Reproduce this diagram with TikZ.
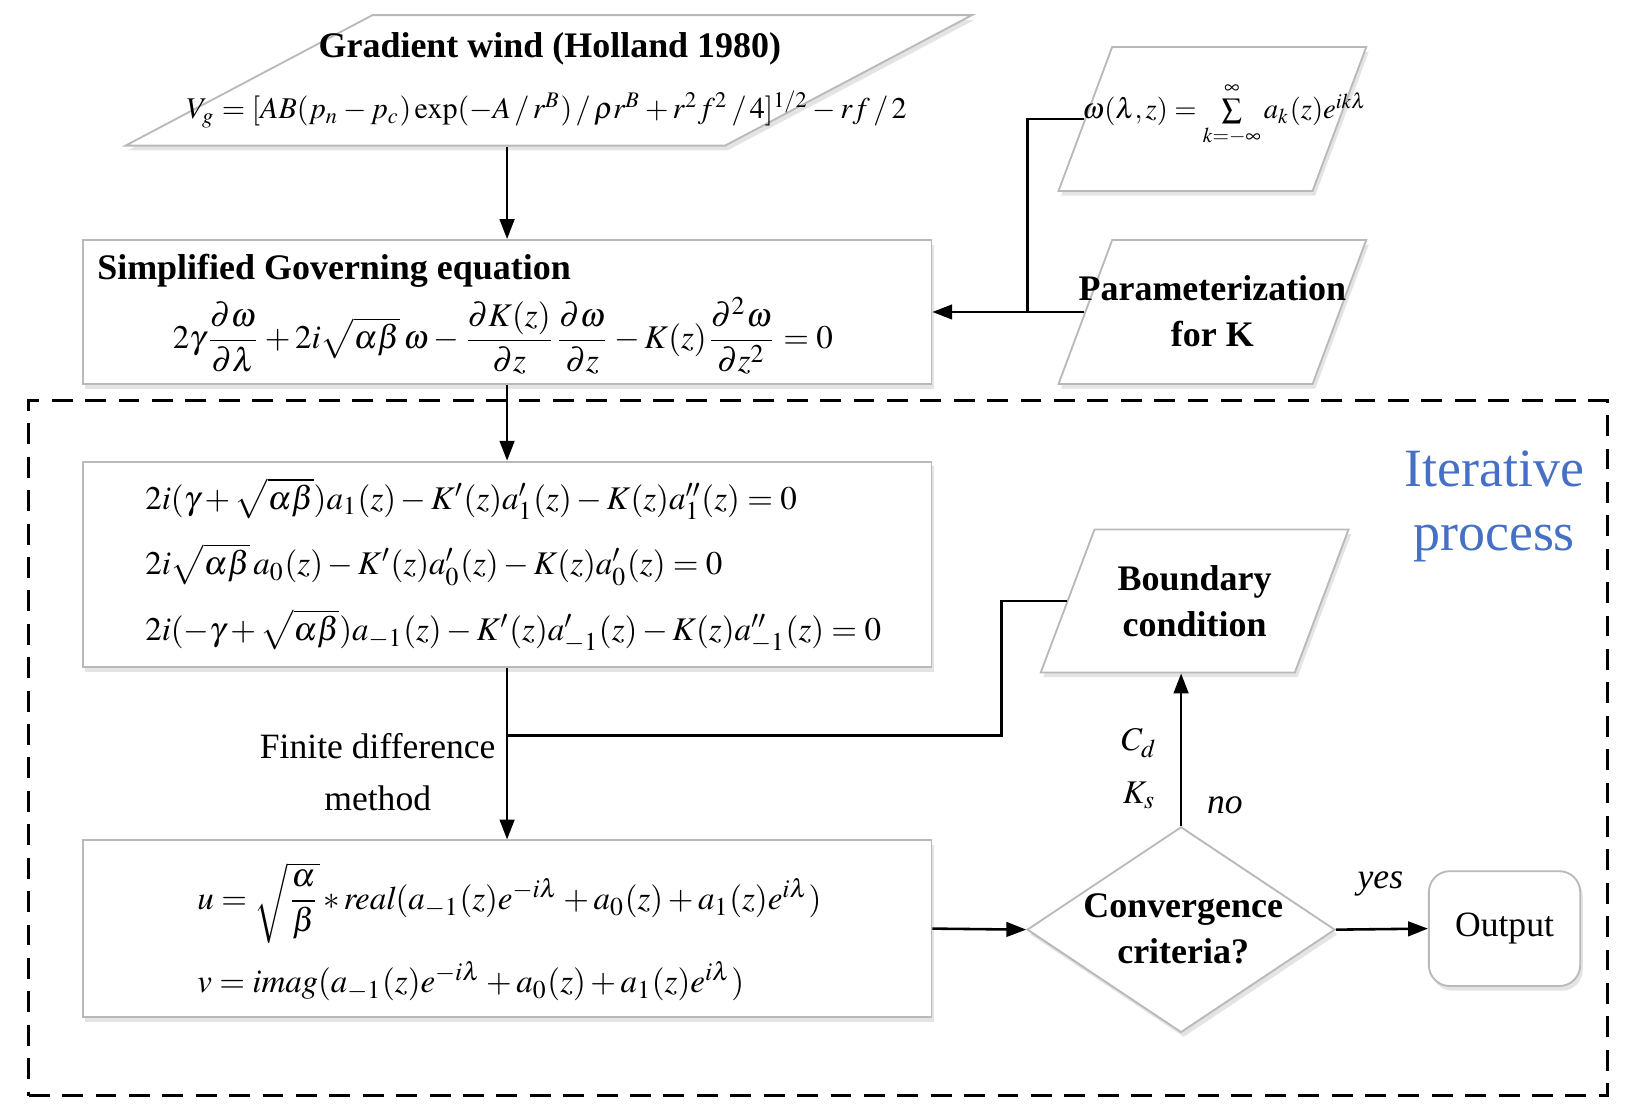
\documentclass[tikz,border=0pt]{standalone}
\usepackage{amsmath}
\usepackage{mathptmx}
\usepackage[no-math]{fontspec}
\setmainfont{Liberation Serif}
\usetikzlibrary{shapes.geometric,arrows.meta,shadows,positioning}
\def\boxwidth{8.13cm}
\definecolor{iterblue}{RGB}{70,112,196}

\begin{document}
\begin{tikzpicture}[x=0.01cm,y=-0.01cm,>={Triangle[length=1.9mm,width=1.4mm]},line width=0.7pt]
	\tikzstyle{boxshadow}=[drop shadow={shadow xshift=0.25mm,shadow yshift=-0.45mm,fill=black!35,opacity=0.3}]
	\tikzstyle{box}=[rectangle,draw=gray!55,fill=white,line width=0.5pt,boxshadow,minimum width=\boxwidth]
	\tikzstyle{iobox}=[trapezium,trapezium left angle=75,trapezium right angle=105,trapezium stretches=true,draw=gray!55,fill=white,line width=0.5pt,boxshadow]
	\tikzstyle{decision}=[diamond,draw=gray!55,fill=white,line width=0.5pt,boxshadow]
	\tikzstyle{titletext}=[font=\fontsize{9.8}{12.5}\selectfont\bfseries,align=center,inner sep=0pt]
	\tikzstyle{eqtext}=[font=\fontsize{9}{11}\selectfont,align=left,inner sep=0pt]
	\tikzstyle{annot}=[font=\fontsize{9.7}{14}\selectfont,align=center,inner sep=0pt]

	\useasboundingbox (0,0) rectangle (1568,1062);

	% Iterative process frame
	\node[draw,dashed,line width=0.9pt,dash pattern=on 2mm off 1.2mm,minimum width=15.12cm,minimum height=6.66cm] (iter) at (784,717) {};
	\node[font=\fontsize{14.7}{17.5}\selectfont,text=iterblue,align=center] (iterT) at (1432,485) {Iterative\\process};

	% Draw the input nodes
	\node[iobox,trapezium left angle=55,trapezium right angle=125,minimum width=8.12cm,minimum height=1.25cm] (grad) at (526,77) {};
	\node[titletext] (gradT) at (527,47) {Gradient wind (Holland 1980)};
	\node[eqtext,font=\fontsize{8.2}{10}\selectfont] (gradE) at (524,105) {$V_g=[AB(p_n-p_c)\exp(-A\mkern2mu/\mkern2mu r^B)\mkern2mu/\mkern2mu\rho r^B+r^2f^2\mkern2mu/\mkern2mu4]^{1/2}-rf\mkern2mu/\mkern2mu2$};

	\node[iobox,minimum width=2.95cm,minimum height=1.38cm] (omega) at (1162,114) {};
	\node[eqtext,font=\fontsize{7.8}{9}\selectfont] (omegaE) at (1174,110) {$\omega(\lambda,z)=\sum\limits_{k=-\infty}^{\infty}a_k(z)e^{ik\lambda}$};

	\node[iobox,minimum width=2.95cm,minimum height=1.38cm] (param) at (1162,299) {};
	\node[titletext] (paramT) at (1162,298) {Parameterization\\for K};

	\node[iobox,minimum width=2.95cm,minimum height=1.37cm] (bound) at (1145,576) {};
	\node[titletext] (boundT) at (1145,576) {Boundary\\condition};

	% Draw the equation boxes
	\node[box,minimum height=1.38cm] (simp) at (486,299) {};
	\node[titletext,anchor=west] (simpT) at (92,260) {Simplified Governing equation};
	\node[eqtext] (simpE) at (482,322) {$2\gamma\dfrac{\partial\omega}{\partial\lambda}+2i\sqrt{\alpha\beta}\,\omega-\dfrac{\partial K(z)}{\partial z}\dfrac{\partial\omega}{\partial z}-K(z)\dfrac{\partial^2\omega}{\partial z^2}=0$};

	\node[box,minimum height=1.97cm] (eqs) at (486,541) {};
	\node[eqtext,anchor=west] (eqsE) at (138,542) {$2i(\gamma+\sqrt{\alpha\beta})a_1(z)-K'(z)a_1'(z)-K(z)a_1''(z)=0$\\[5.5pt]
		$2i\sqrt{\alpha\beta}\,a_0(z)-K'(z)a_0'(z)-K(z)a_0'(z)=0$\\[5.5pt]
		$2i(-\gamma+\sqrt{\alpha\beta})a_{-1}(z)-K'(z)a_{-1}'(z)-K(z)a_{-1}''(z)=0$};

	\node[box,minimum height=1.69cm] (uv) at (486,890) {};
	\node[eqtext,anchor=west] (uvE) at (188,893) {$u=\sqrt{\dfrac{\alpha}{\beta}}\,{*}\,\mathit{real}(a_{-1}(z)e^{-i\lambda}+a_0(z)+a_1(z)e^{i\lambda})$\\[4pt]
		$v=\mathit{imag}(a_{-1}(z)e^{-i\lambda}+a_0(z)+a_1(z)e^{i\lambda})$};

	% Decision and output
	\node[decision,minimum width=2.95cm,minimum height=1.97cm] (conv) at (1132,891) {};
	\node[titletext] (convT) at (1134,890) {Convergence\\criteria?};
	\node[rectangle,rounded corners=2mm,draw=gray!55,fill=white,line width=0.5pt,boxshadow,minimum width=1.45cm,minimum height=1.1cm,annot] (out) at (1442,890) {Output};

	% Connect the nodes
	\coordinate (kjoin) at (985,299);
	\draw (omega.west) -| (kjoin);
	\draw[->] (param.west) -- (simp.east);
	\draw[->] (simp.north |- grad.south) -- (simp.north);
	\draw[->] (simp.south) -- (eqs.north);
	\draw[->] (eqs.south) -- (uv.north);
	\coordinate (fdm) at (487,705);
	\coordinate (bjoin) at (960,705);
	\draw (bound.west) -| (bjoin) -- (fdm);
	\node[annot] (fdmT) at (362,740) {Finite difference\\method};
	\draw[->] (uv.east) -- (conv.west);
	\draw[->] (conv.north) -- (conv.north |- bound.south);
	\draw[->] (conv.east) -- (out.west);

	% Annotate the branches
	\node[eqtext] (cd) at (1092,712) {$C_d$};
	\node[eqtext] (ks) at (1092,762) {$K_s$};
	\node[annot,font=\fontsize{9.7}{12}\selectfont\itshape] (no) at (1174,772) {no};
	\node[annot,font=\fontsize{9.7}{12}\selectfont\itshape] (yes) at (1323,847) {yes};
\end{tikzpicture}
\end{document}
